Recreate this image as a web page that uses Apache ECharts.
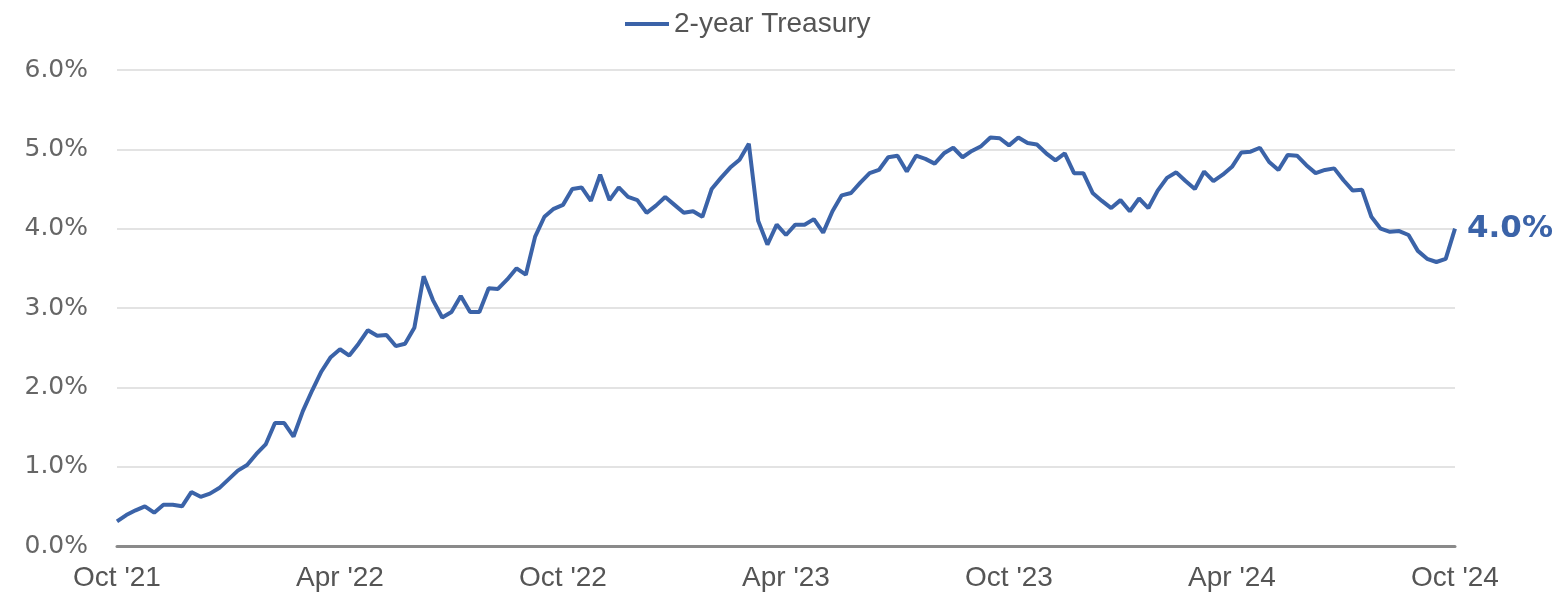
<!DOCTYPE html>
<html>
<head>
<meta charset="utf-8">
<script src="https://cdn.jsdelivr.net/npm/echarts@6/dist/echarts.min.js"></script>
<style>
  html, body { margin: 0; padding: 0; background: #fff; }
  #chart { width: 1563px; height: 600px; }
</style>
</head>
<body>
<div id="chart"></div>
<script>
// 2-year Treasury yield, sampled every quarter month from Oct '21 (month 0) to Oct '24 (month 36)
var seriesName = '2-year Treasury';
var monthStep = 0.25;
var yields = [
  0.31, 0.39, 0.45, 0.50, 0.42, 0.52, 0.52, 0.50, 0.68, 0.62, 0.66, 0.73, 0.84, 0.95, 1.02, 1.16, 1.28, 1.55, 1.55, 1.38, 1.70, 1.96, 2.20, 2.38, 2.48,
  2.40, 2.55, 2.72, 2.65, 2.66, 2.52, 2.55, 2.75, 3.40, 3.10, 2.88, 2.95, 3.15, 2.95, 2.95, 3.25, 3.24, 3.36, 3.50, 3.42, 3.90, 4.15, 4.25, 4.30,
  4.50, 4.52, 4.35, 4.68, 4.36, 4.52, 4.40, 4.36, 4.20, 4.29, 4.40, 4.30, 4.20, 4.22, 4.15, 4.50, 4.64, 4.77, 4.87, 5.07, 4.10, 3.80, 4.05, 3.92,
  4.05, 4.05, 4.12, 3.95, 4.22, 4.42, 4.45, 4.58, 4.70, 4.74, 4.90, 4.92, 4.72, 4.92, 4.88, 4.82, 4.95, 5.02, 4.90, 4.98, 5.04, 5.15, 5.14, 5.05,
  5.15, 5.08, 5.06, 4.95, 4.86, 4.95, 4.70, 4.70, 4.45, 4.35, 4.26, 4.36, 4.22, 4.38, 4.26, 4.48, 4.64, 4.71, 4.60, 4.50, 4.72, 4.60, 4.68, 4.78,
  4.96, 4.97, 5.02, 4.84, 4.74, 4.93, 4.92, 4.80, 4.70, 4.74, 4.76, 4.61, 4.48, 4.49, 4.15, 4.00, 3.96, 3.97, 3.92, 3.72, 3.62, 3.58, 3.62, 4.00
];
var xTickLabels = ["Oct '21", "Apr '22", "Oct '22", "Apr '23", "Oct '23", "Apr '24", "Oct '24"];

var points = yields.map(function (v, i) { return [i * monthStep, v]; });

var chart = echarts.init(document.getElementById('chart'));
chart.setOption({
  backgroundColor: '#ffffff',
  animation: false,
  legend: {
    top: 5,
    left: 620,
    icon: 'rect',
    itemWidth: 44,
    itemHeight: 4,
    textStyle: { color: '#555', fontSize: 28, fontFamily: 'Liberation Sans, Arial' },
    data: [seriesName]
  },
  grid: { left: 117, right: 108, top: 70, bottom: 54 },
  xAxis: {
    type: 'value',
    min: 0,
    max: 36,
    interval: 6,
    axisLine: { show: true, lineStyle: { color: '#8a8a8a', width: 3 } },
    axisTick: { show: false },
    splitLine: { show: false },
    axisLabel: {
      margin: 18,
      color: '#555',
      fontSize: 28,
      fontFamily: 'Liberation Sans, Arial',
      formatter: function (v) { return xTickLabels[Math.round(v / 6)]; }
    }
  },
  yAxis: {
    type: 'value',
    min: 0,
    max: 6,
    interval: 1,
    axisLine: { show: false },
    axisTick: { show: false },
    splitLine: { lineStyle: { color: '#e3e3e3', width: 2 } },
    axisLabel: {
      margin: 29,
      color: '#666',
      fontSize: 25,
      fontFamily: 'DejaVu Sans, Lato, sans-serif',
      formatter: function (v) { return v.toFixed(1) + '%'; }
    }
  },
  series: [{
    name: seriesName,
    type: 'line',
    data: points,
    showSymbol: false,
    smooth: false,
    lineStyle: { color: '#3b63a8', width: 4 },
    itemStyle: { color: '#3b63a8' },
    endLabel: {
      show: true,
      distance: 12,
      color: '#3b63a8',
      fontSize: 31,
      fontWeight: 'bold',
      fontFamily: 'DejaVu Sans, Lato, sans-serif',
      formatter: function (p) { return p.value[1].toFixed(1) + '%'; }
    }
  }]
});
</script>
</body>
</html>
